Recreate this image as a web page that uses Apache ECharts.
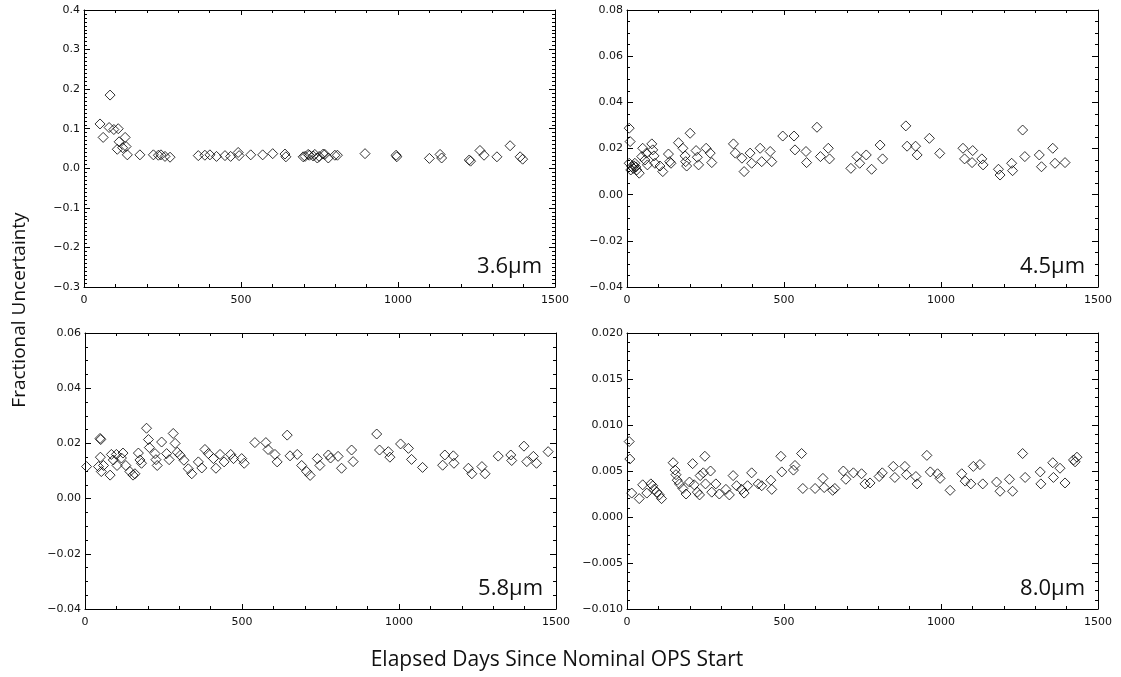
<!DOCTYPE html>
<html>
<head>
<meta charset="utf-8">
<title>Fractional Uncertainty</title>
<script src="https://cdn.jsdelivr.net/npm/echarts@6/dist/echarts.min.js"></script>
<style>
	html, body { margin: 0; padding: 0; background: #fff; }
	#main { width: 1121px; height: 677px; }
</style>
</head>
<body>
<div id="main"></div>
<script>
/**
 * 四个波段的相对不确定度随时间变化 (散点图, 空心菱形)
 */

// x 轴刻度
var dayTicks = [0, 500, 1000, 1500];

// 3.6um
var days36 = [51, 61, 80, 83, 95, 106, 109, 112, 123, 131, 134, 138, 178, 221, 237, 245, 258, 274,
	364, 385, 401, 422, 449, 467, 491, 494, 531, 569, 601, 640, 643, 698, 704, 714, 718, 730, 735,
	743, 749, 762, 767, 778, 799, 807, 895, 994, 996, 1100, 1134, 1139, 1227, 1231, 1261, 1274,
	1315, 1357, 1389, 1397];
var unc36 = [0.112, 0.078, 0.103, 0.185, 0.098, 0.048, 0.100, 0.067, 0.052, 0.078, 0.055, 0.034,
	0.034, 0.034, 0.033, 0.034, 0.030, 0.028, 0.032, 0.033, 0.034, 0.030, 0.032, 0.030, 0.040,
	0.032, 0.034, 0.034, 0.037, 0.036, 0.029, 0.029, 0.030, 0.035, 0.033, 0.031, 0.035, 0.026,
	0.030, 0.036, 0.035, 0.026, 0.033, 0.033, 0.037, 0.033, 0.029, 0.025, 0.035, 0.026, 0.021,
	0.018, 0.045, 0.033, 0.029, 0.057, 0.029, 0.023];

// 4.5um
var days45 = [7, 10, 7, 15, 20, 25, 31, 39, 12, 22, 28, 47, 50, 57, 62, 65, 79, 82, 86, 89, 105, 114,
	132, 136, 140, 164, 178, 185, 187, 190, 201, 220, 224, 228, 252, 265, 270, 339, 345, 366, 373,
	392, 397, 424, 429, 456, 461, 496, 532, 535, 570, 572, 605, 616, 641, 645, 713, 732, 741, 762,
	779, 806, 814, 888, 892, 919, 924, 963, 996, 1070, 1075, 1099, 1101, 1130, 1134, 1183, 1188,
	1225, 1228, 1260, 1267, 1313, 1320, 1356, 1363, 1395];
var unc45 = [0.0288, 0.0230, 0.0136, 0.0121, 0.0114, 0.0136, 0.0107, 0.0093, 0.0107, 0.0125, 0.0120,
	0.0165, 0.0201, 0.0150, 0.0180, 0.0129, 0.0220, 0.0194, 0.0168, 0.0136, 0.0124, 0.0100, 0.0176,
	0.0143, 0.0136, 0.0225, 0.0201, 0.0168, 0.0143, 0.0124, 0.0266, 0.0191, 0.0162, 0.0129, 0.0201,
	0.0180, 0.0139, 0.0220, 0.0180, 0.0158, 0.0100, 0.0180, 0.0136, 0.0201, 0.0143, 0.0187, 0.0143,
	0.0254, 0.0254, 0.0194, 0.0187, 0.0139, 0.0292, 0.0165, 0.0201, 0.0155, 0.0114, 0.0165, 0.0136,
	0.0172, 0.0110, 0.0215, 0.0155, 0.0298, 0.0210, 0.0210, 0.0172, 0.0244, 0.0179, 0.0201, 0.0155,
	0.0139, 0.0191, 0.0155, 0.0129, 0.0110, 0.0085, 0.0136, 0.0104, 0.0280, 0.0165, 0.0172, 0.0121,
	0.0201, 0.0136, 0.0139];

// 5.8um
var days58 = [5, 43, 48, 50, 49, 52, 59, 80, 84, 90, 100, 102, 116, 121, 130, 143, 153, 159, 170, 175,
	180, 196, 202, 205, 223, 226, 230, 244, 260, 268, 281, 287, 294, 303, 315, 329, 340, 361, 372,
	382, 393, 409, 417, 430, 443, 464, 473, 499, 507, 541, 576, 583, 605, 612, 644, 653, 676, 690,
	706, 717, 740, 748, 775, 782, 806, 817, 849, 854, 929, 938, 966, 971, 1005, 1030, 1040, 1075,
	1139, 1146, 1173, 1175, 1221, 1232, 1264, 1274, 1316, 1356, 1359, 1398, 1407, 1428, 1438, 1475];
var unc58 = [0.0116, 0.0116, 0.0218, 0.0214, 0.0150, 0.0098, 0.0120, 0.0085, 0.0160, 0.0140, 0.0160,
	0.0120, 0.0147, 0.0165, 0.0120, 0.0098, 0.0085, 0.0090, 0.0165, 0.0140, 0.0128, 0.0255, 0.0214,
	0.0185, 0.0163, 0.0141, 0.0120, 0.0205, 0.0163, 0.0141, 0.0236, 0.0200, 0.0168, 0.0157, 0.0139,
	0.0108, 0.0090, 0.0133, 0.0111, 0.0178, 0.0163, 0.0145, 0.0110, 0.0160, 0.0133, 0.0160, 0.0145,
	0.0145, 0.0128, 0.0203, 0.0203, 0.0178, 0.0160, 0.0133, 0.0230, 0.0155, 0.0160, 0.0120, 0.0098,
	0.0084, 0.0145, 0.0120, 0.0158, 0.0147, 0.0153, 0.0110, 0.0176, 0.0134, 0.0234, 0.0176, 0.0170,
	0.0150, 0.0198, 0.0182, 0.0142, 0.0113, 0.0121, 0.0158, 0.0155, 0.0128, 0.0110, 0.0090, 0.0116,
	0.0090, 0.0154, 0.0158, 0.0138, 0.0190, 0.0134, 0.0153, 0.0128, 0.0170];

// 8.0um
var days80 = [7, 9, 15, 39, 50, 63, 76, 82, 86, 95, 103, 110, 147, 153, 156, 160, 167, 178, 188, 199,
	209, 214, 224, 231, 233, 243, 248, 250, 266, 270, 283, 294, 315, 326, 338, 349, 365, 373, 384,
	397, 418, 429, 458, 461, 490, 493, 530, 535, 556, 560, 599, 624, 628, 655, 662, 689, 697, 721,
	747, 758, 774, 803, 813, 848, 853, 885, 890, 920, 924, 955, 966, 989, 997, 1029, 1066, 1077,
	1095, 1103, 1124, 1133, 1177, 1188, 1218, 1228, 1260, 1268, 1316, 1318, 1356, 1358, 1379, 1395,
	1422, 1427, 1433];
var unc80 = [0.0082, 0.0063, 0.0026, 0.0020, 0.0035, 0.0026, 0.0036, 0.0034, 0.0030, 0.0027, 0.0024,
	0.0020, 0.0059, 0.0051, 0.0046, 0.0040, 0.0036, 0.0031, 0.0025, 0.0038, 0.0058, 0.0035, 0.0027,
	0.0024, 0.0045, 0.0048, 0.0066, 0.0036, 0.0050, 0.0027, 0.0036, 0.0025, 0.0030, 0.0024, 0.0045,
	0.0034, 0.0030, 0.0026, 0.0034, 0.0048, 0.0036, 0.0034, 0.0040, 0.0030, 0.0066, 0.0049, 0.0051,
	0.0056, 0.0069, 0.0031, 0.0031, 0.0042, 0.0032, 0.0029, 0.0031, 0.0050, 0.0041, 0.0048, 0.0047,
	0.0036, 0.0037, 0.0044, 0.0048, 0.0055, 0.0043, 0.0055, 0.0046, 0.0044, 0.0036, 0.0067, 0.0049,
	0.0047, 0.0042, 0.0029, 0.0047, 0.0039, 0.0036, 0.0055, 0.0057, 0.0036, 0.0038, 0.0028, 0.0041,
	0.0028, 0.0069, 0.0043, 0.0049, 0.0036, 0.0059, 0.0043, 0.0053, 0.0037, 0.0062, 0.0060, 0.0065];

// 各面板的 y 轴范围
var yMin = [-0.3, -0.04, -0.04, -0.01];
var yMax = [0.4, 0.08, 0.06, 0.02];
var yStep = [0.1, 0.02, 0.02, 0.005];
var yMinor = [10, 4, 4, 5];
var yDigits = [1, 2, 2, 3];
var bandNames = ['3.6µm', '4.5µm', '5.8µm', '8.0µm'];

var panelDays = [days36, days45, days58, days80];
var panelUnc = [unc36, unc45, unc58, unc80];

// 像素布局
var grids = [
	{ left: 84, top: 10, width: 471, height: 277 },
	{ left: 627, top: 10, width: 471, height: 277 },
	{ left: 85, top: 333, width: 471, height: 276 },
	{ left: 627, top: 333, width: 471, height: 276 }
];

function fmtY(d) {
	return function (v) {
		var s = Math.abs(v) < 1e-9 ? (0).toFixed(d) : v.toFixed(d);
		return s.replace('-', '\u2212');
	};
}

function buildOption() {
	var xAxes = [], yAxes = [], series = [], graphics = [];
	var tickFont = { fontFamily: 'DejaVu Sans', fontSize: 11, color: '#111' };
	var lineStyle = { color: '#000', width: 1 };

	for (var i = 0; i < 4; i++) {
		var g = grids[i];
		// 下方 x 轴 (带标签) 和上方 x 轴 (只有刻度)
		['bottom', 'top'].forEach(function (pos) {
			xAxes.push({
				type: 'value', gridIndex: i, position: pos,
				min: dayTicks[0], max: dayTicks[dayTicks.length - 1], interval: 500,
				axisLine: { show: true, onZero: false, lineStyle: lineStyle },
				axisTick: { show: true, inside: true, length: 5, lineStyle: lineStyle },
				minorTick: { show: true, splitNumber: 5, length: 3, lineStyle: lineStyle },
				axisLabel: Object.assign({
					show: pos === 'bottom', margin: 8,
					formatter: function (v) { return String(v); }
				}, tickFont),
				splitLine: { show: false }
			});
		});
		// 左侧 y 轴 (带标签) 和右侧 y 轴
		['left', 'right'].forEach(function (pos) {
			yAxes.push({
				type: 'value', gridIndex: i, position: pos,
				min: yMin[i], max: yMax[i], interval: yStep[i],
				axisLine: { show: true, onZero: false, lineStyle: lineStyle },
				axisTick: { show: true, inside: true, length: 6, lineStyle: lineStyle },
				minorTick: { show: true, splitNumber: yMinor[i], length: 3, lineStyle: lineStyle },
				axisLabel: Object.assign({ show: pos === 'left', margin: 4, formatter: fmtY(yDigits[i]) }, tickFont),
				splitLine: { show: false }
			});
		});

		var pts = [];
		for (var k = 0; k < panelDays[i].length; k++) {
			pts.push([panelDays[i][k], panelUnc[i][k]]);
		}
		series.push({
			name: bandNames[i],
			type: 'scatter',
			xAxisIndex: i * 2,
			yAxisIndex: i * 2,
			symbol: 'diamond',
			symbolSize: [10, 10],
			itemStyle: { color: 'rgba(0,0,0,0)', borderColor: '#000', borderWidth: 1 },
			data: pts,
			silent: true
		});

		graphics.push({
			type: 'text',
			x: g.left + g.width - 13,
			y: g.top + g.height - 20,
			style: {
				text: bandNames[i],
				font: '22px "Open Sans"',
				fill: '#111',
				textAlign: 'right',
				textVerticalAlign: 'middle'
			}
		});
	}

	// 公共坐标轴标题
	graphics.push({
		type: 'text',
		x: 20, y: 310,
		rotation: Math.PI / 2,
		style: {
			text: 'Fractional Uncertainty',
			font: '19px "Open Sans"',
			fill: '#111',
			textAlign: 'center',
			textVerticalAlign: 'middle'
		}
	});
	graphics.push({
		type: 'text',
		x: 557, y: 660,
		style: {
			text: 'Elapsed Days Since Nominal OPS Start',
			font: '21px "Open Sans"',
			fill: '#111',
			textAlign: 'center',
			textVerticalAlign: 'middle'
		}
	});

	return {
		animation: false,
		backgroundColor: '#fff',
		grid: grids,
		xAxis: xAxes,
		yAxis: yAxes,
		series: series,
		graphic: graphics
	};
}

var myChart = echarts.init(document.getElementById('main'), null, { renderer: 'canvas' });
myChart.setOption(buildOption());
</script>
</body>
</html>
